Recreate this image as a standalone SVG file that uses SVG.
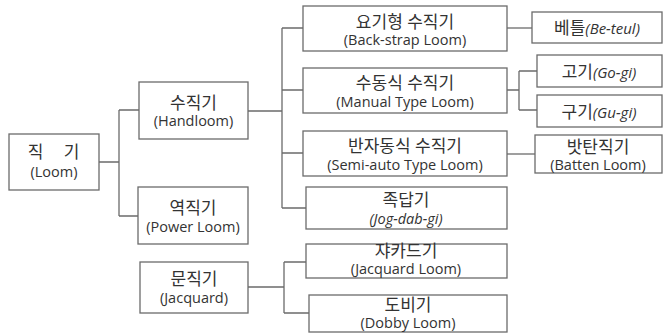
<svg xmlns="http://www.w3.org/2000/svg" width="665" height="334" viewBox="0 0 665 334">
<style>
.box{fill:#fff;stroke:#6b6b6b;stroke-width:1.3}
.con path{fill:none;stroke:#6b6b6b;stroke-width:1.3}
text{font-family:"Open Sans","Noto Sans CJK KR",sans-serif;fill:#333;text-anchor:middle}
.t{font-size:17px}
.s{font-size:14.5px}
.i{font-style:italic}
.si{font-size:15px;font-style:italic}
</style>
<rect width="665" height="334" fill="#fff"/>
<g id="connectors" class="con">
<path d="M99 162H119M119 110V216M119 110H139M119 216H138"/>
<path d="M248 111H282M282 28V208M282 28H303M282 90H303M282 153H303M282 208H306"/>
<path d="M248 287H284M284 262V313M284 262H306M284 313H309"/>
<path d="M507 28H532"/>
<path d="M507 90H519M519 71V110M519 71H537M519 110H537"/>
<path d="M507 154H535"/>
</g>
<g id="loom"><rect class="box" x="9" y="134" width="90" height="56"/>
<text class="t" y="158"><tspan x="35.5">직</tspan><tspan x="71.5">기</tspan></text>
<text class="s" x="54" y="177">(Loom)</text></g>
<g id="handloom"><rect class="box" x="139" y="82" width="109" height="57"/>
<text class="t" x="193.5" y="109">수직기</text>
<text class="s" x="193.5" y="126">(Handloom)</text></g>
<g id="powerloom"><rect class="box" x="138" y="187" width="110" height="57"/>
<text class="t" x="193" y="214">역직기</text>
<text class="s" x="193" y="232">(Power Loom)</text></g>
<g id="jacquard"><rect class="box" x="140" y="262" width="108" height="51"/>
<text class="t" x="194" y="285">문직기</text>
<text class="s" x="194" y="303">(Jacquard)</text></g>
<g id="backstrap"><rect class="box" x="303" y="6" width="204" height="45"/>
<text class="t" x="405" y="28">요기형 수직기</text>
<text class="s" x="405" y="45">(Back-strap Loom)</text></g>
<g id="manual"><rect class="box" x="303" y="68" width="204" height="45"/>
<text class="t" x="405" y="89">수동식 수직기</text>
<text class="s" x="405" y="107">(Manual Type Loom)</text></g>
<g id="semiauto"><rect class="box" x="303" y="131" width="204" height="45"/>
<text class="t" x="405" y="152">반자동식 수직기</text>
<text class="s" x="405" y="170">(Semi-auto Type Loom)</text></g>
<g id="jogdabgi"><rect class="box" x="306" y="187" width="201" height="42"/>
<text class="t" x="406" y="206">족답기</text>
<text class="s i" x="406" y="224">(Jog-dab-gi)</text></g>
<g id="jacquardloom"><rect class="box" x="306" y="244" width="201" height="34"/>
<text class="t" x="406" y="257">쟈카드기</text>
<text class="s" x="406" y="274">(Jacquard Loom)</text></g>
<g id="dobby"><rect class="box" x="309" y="295" width="198" height="37"/>
<text class="t" x="408" y="311">도비기</text>
<text class="s" x="408" y="328">(Dobby Loom)</text></g>
<g id="beteul"><rect class="box" x="532" y="12" width="130" height="31"/>
<text x="597" y="34"><tspan class="t">베틀</tspan><tspan class="si">(Be-teul)</tspan></text></g>
<g id="gogi"><rect class="box" x="537" y="55" width="125" height="32"/>
<text x="599" y="78"><tspan class="t">고기</tspan><tspan class="si">(Go-gi)</tspan></text></g>
<g id="gugi"><rect class="box" x="537" y="95" width="125" height="32"/>
<text x="599" y="118"><tspan class="t">구기</tspan><tspan class="si">(Gu-gi)</tspan></text></g>
<g id="batten"><rect class="box" x="535" y="135" width="127" height="38"/>
<text class="t" x="598" y="153">밧탄직기</text>
<text class="s" x="598" y="170">(Batten Loom)</text></g>
</svg>
